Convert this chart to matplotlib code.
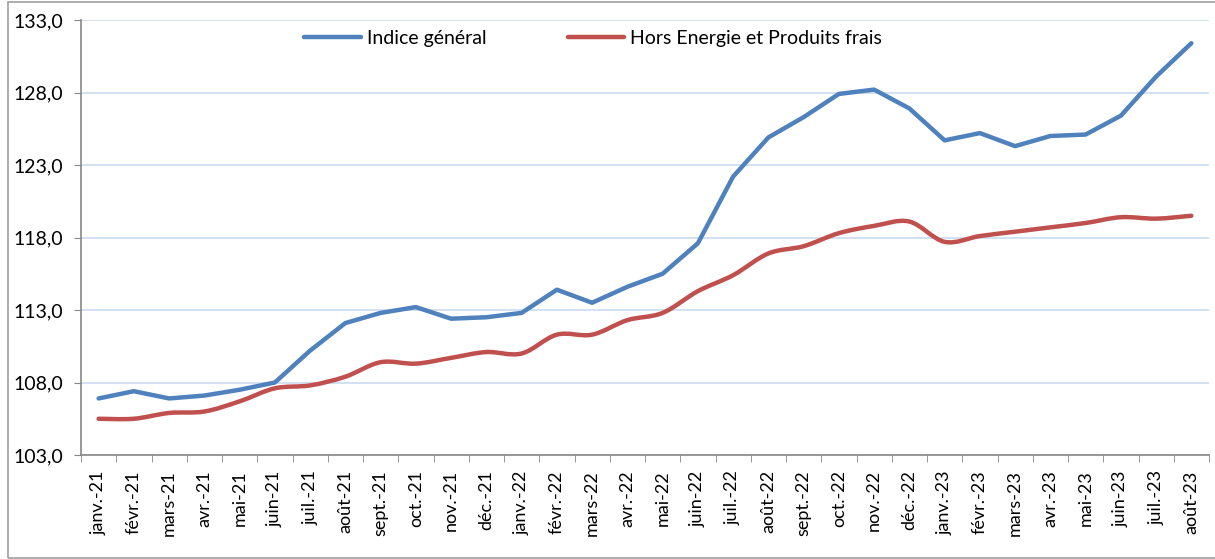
import matplotlib
matplotlib.use("Agg")
import matplotlib.pyplot as plt
import numpy as np
from matplotlib.lines import Line2D
from matplotlib.patches import PathPatch, Rectangle
from matplotlib.path import Path

months = ["janv.-21", "févr.-21", "mars-21", "avr.-21", "mai-21", "juin-21", "juil.-21", "août-21",
          "sept.-21", "oct.-21", "nov.-21", "déc.-21", "janv.-22", "févr.-22", "mars-22", "avr.-22",
          "mai-22", "juin-22", "juil.-22", "août-22", "sept.-22", "oct.-22", "nov.-22", "déc.-22",
          "janv.-23", "févr.-23", "mars-23", "avr.-23", "mai-23", "juin-23", "juil.-23", "août-23"]
indice_general = [106.9, 107.4, 106.9, 107.1, 107.5, 108.0, 110.2, 112.1,
                  112.8, 113.2, 112.4, 112.5, 112.8, 114.4, 113.5, 114.6,
                  115.5, 117.6, 122.2, 124.9, 126.3, 127.9, 128.2, 126.9,
                  124.7, 125.2, 124.3, 125.0, 125.1, 126.4, 129.1, 131.4]
hors_energie = [105.5, 105.5, 105.9, 106.0, 106.7, 107.6, 107.8, 108.4,
                109.4, 109.3, 109.7, 110.1, 110.0, 111.3, 111.3, 112.3,
                112.8, 114.3, 115.4, 116.9, 117.4, 118.3, 118.8, 119.1,
                117.7, 118.1, 118.4, 118.7, 119.0, 119.4, 119.3, 119.5]
yticks = [103, 108, 113, 118, 123, 128, 133]

BLUE, RED = "#4f81bd", "#c0504d"
GRID, AXIS = "#c6d9f0", "#868686"

plt.rcParams["font.family"] = ["Lato", "DejaVu Sans"]


def smooth_path(x, y):
    # Excel-style smoothed line: Catmull-Rom turned into cubic Bezier segments
    p = np.column_stack([x, y]).astype(float)
    ext = np.vstack([p[0], p, p[-1]])
    verts, codes = [p[0]], [Path.MOVETO]
    for i in range(len(p) - 1):
        p0, p1, p2, p3 = ext[i], ext[i + 1], ext[i + 2], ext[i + 3]
        verts += [p1 + (p2 - p0) / 6, p2 - (p3 - p1) / 6, p2]
        codes += [Path.CURVE4] * 3
    return Path(verts, codes)


fig = plt.figure(figsize=(12.15, 5.59), dpi=100)
ax = fig.add_axes([81 / 1215, 1 - 455 / 559, 1128 / 1215, 435 / 559])
x = np.arange(len(months))

ax.plot(x, indice_general, color=BLUE, lw=3.2, solid_capstyle="round",
        solid_joinstyle="round", zorder=3)
ax.add_patch(PathPatch(smooth_path(x, hors_energie), fill=False, edgecolor=RED, lw=3.2,
                       capstyle="round", joinstyle="round", zorder=3))

ax.set_xlim(-0.5, len(months) - 0.5)
ax.set_ylim(103, 133)
ax.set_yticks(yticks, [f"{v:.1f}".replace(".", ",") for v in yticks], fontsize=14)
ax.set_xticks(x, months, rotation=90, fontsize=13)
ax.set_xticks(np.arange(-0.5, len(months)), minor=True)
ax.tick_params(axis="x", which="major", length=0, pad=11)
ax.tick_params(axis="x", which="minor", length=5, color=AXIS)
ax.tick_params(axis="y", length=5, color=AXIS, pad=8)
for t in ax.get_xticklabels():
    t.set_va("top")

ax.grid(axis="y", color=GRID, lw=1.1)
ax.set_axisbelow(True)
for sp in ["top", "right"]:
    ax.spines[sp].set_visible(False)
for sp in ["left", "bottom"]:
    ax.spines[sp].set_color(AXIS)
    ax.spines[sp].set_linewidth(1.2)

handles = [Line2D([], [], color=BLUE, lw=3.2, solid_capstyle="round"),
           Line2D([], [], color=RED, lw=3.2, solid_capstyle="round")]
ax.legend(handles, ["Indice général", "Hors Energie et Produits frais"], loc="center",
          bbox_to_anchor=(0.454, 0.958), ncol=2, frameon=False, fontsize=14,
          handlelength=2.9, handletextpad=0.3, columnspacing=4.2)

fig.patches.append(Rectangle((8 / 1215, 1 / 559), 1.2, 1 - 3 / 559, transform=fig.transFigure,
                             fill=False, edgecolor="#a0a0a0", lw=1.2))

fig.savefig("out.png", dpi=100, facecolor="white")
